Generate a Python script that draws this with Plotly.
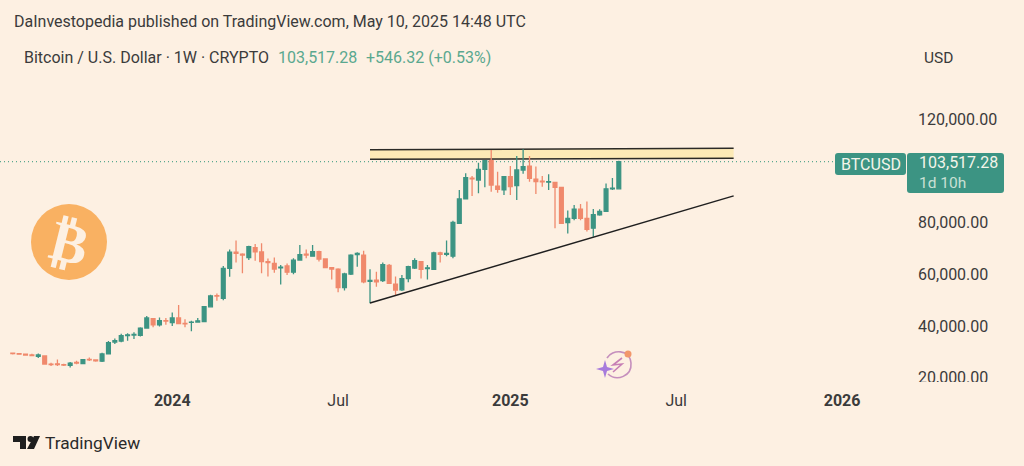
import pandas as pd
import plotly.graph_objects as go

# weekly BTCUSD candles
first_week = '2023-07-10'
opens = [29500, 29300, 29100, 28800, 28300, 28400, 25300, 25400, 25100, 24800, 25900, 25500,
         27100, 26900, 26400, 29200, 33800, 34200, 36300, 36500, 36400, 39200, 42800, 40400,
         42100, 41300, 43100, 41000, 41400, 41500, 41700, 47400, 51700, 50700, 62300, 68500,
         67800, 66400, 70300, 68600, 64900, 64200, 62500, 63200, 60800, 65500, 67800, 67000,
         68700, 65900, 62600, 62000, 54800, 60100, 67600, 67400, 57300, 57700, 57500, 63400,
         56200, 54000, 58300, 62400, 64900, 62200, 61900, 68300, 67700, 67000, 79700, 89100,
         97100, 96400, 100500, 103900, 94100, 92600, 97700, 94300, 100300, 101800, 96800, 96000,
         95600, 95500, 93600, 79950, 81600, 85200, 81600, 77800, 83000, 84300, 93000, 93000]
highs = [29800, 29500, 29300, 29300, 29400, 28500, 25800, 27100, 25400, 26100, 26600, 27000,
         27800, 27000, 29700, 34200, 35200, 37000, 37200, 37600, 39500, 43900, 42900, 43300,
         43100, 45200, 48100, 42600, 42000, 43100, 47700, 52100, 52600, 63200, 69600, 73000,
         68100, 71000, 71700, 72000, 66100, 66500, 63600, 64200, 66200, 71300, 69600, 71300,
         69100, 66200, 62600, 62300, 60600, 67700, 68500, 69100, 61900, 61000, 64500, 64000,
         59100, 59700, 63300, 66200, 65000, 63600, 68700, 68700, 73000, 80700, 92600, 99000,
         98000, 103100, 104000, 108000, 99600, 98000, 101800, 105700, 108300, 105700, 101600, 98000,
         98700, 95500, 93800, 84600, 86800, 87200, 88100, 85200, 85100, 95100, 97200, 103900]
lows = [29000, 28900, 28600, 28400, 27600, 25000, 24500, 24500, 24500, 24000, 25200, 25400,
        26500, 26200, 26100, 29000, 33000, 33700, 34300, 35000, 35900, 39000, 39500, 39800,
        40500, 40000, 40800, 39500, 38000, 41300, 41500, 47200, 49800, 50000, 59000, 64500,
        60400, 65500, 65200, 60400, 59100, 60600, 56000, 59700, 60000, 65300, 66200, 66800,
        64900, 62300, 58000, 53000, 53700, 59700, 62900, 56500, 48800, 55200, 57000, 56200,
        52000, 53500, 56900, 62000, 58400, 58000, 61600, 64500, 67000, 66200, 79400, 89000,
        90200, 91300, 93600, 91900, 91500, 90600, 90600, 88700, 98800, 95800, 91000, 93800,
        92600, 77800, 79600, 75800, 80900, 80900, 76500, 74500, 82600, 84200, 92600, 92900]
closes = [29300, 29100, 28800, 28600, 28800, 25300, 25100, 25100, 24900, 25600, 25700, 27000,
          26900, 26500, 29200, 33600, 34300, 36300, 36600, 36800, 39200, 43100, 40400, 42100,
          41900, 43100, 40900, 40800, 41500, 42000, 47500, 51600, 51600, 62300, 68500, 68100,
          67400, 70700, 68700, 64900, 64500, 62000, 62700, 60800, 65500, 67600, 67400, 68700,
          65900, 62600, 62000, 54800, 60100, 67400, 68100, 57100, 57600, 57100, 63700, 56500,
          53900, 58300, 62900, 65300, 61900, 62500, 68300, 67700, 68100, 80000, 89100, 97300,
          96900, 100500, 103900, 94500, 92800, 97700, 93900, 100300, 101600, 97100, 95800, 95700,
          95800, 93600, 79700, 81600, 85200, 81600, 77400, 83000, 84300, 93000, 93300, 103517.28]

# drawings on the chart
band_dates = ['2024-08-05', '2025-09-08']
band_top = [108150, 108700]
band_bottom = [104430, 104800]
trend_dates = ['2024-08-05', '2025-09-08']
trend_prices = [48900, 90300]

price_ticks = [20000, 40000, 60000, 80000, 120000]
date_ticks = ['2024-01-01', '2024-07-01', '2025-01-06', '2025-07-07', '2026-01-05']
date_labels = ['<b>2024</b>', 'Jul', '<b>2025</b>', 'Jul', '<b>2026</b>']

BG = '#fdf0e2'
GREEN = '#3c9483'
RED = '#f0896c'
TEXT = '#3b3b3b'
FONT = 'Roboto'

# plot area in page pixels, used for the decorations only
L, R, T, B = 0, 915, 78, 384


def px(x, y):
    return (x - L) / (R - L), (B - y) / (B - T)


def path(points, close=True):
    out = []
    for i, (x, y) in enumerate(points):
        a, b = px(x, y)
        out.append(('M' if i == 0 else 'L') + f'{a:.5f},{b:.5f}')
    return ' '.join(out) + (' Z' if close else '')


def curve(d):
    # d is a list of (command, points...) in page pixels
    out = []
    for cmd, *pts in d:
        s = ' '.join('%.5f,%.5f' % px(*p) for p in pts)
        out.append(cmd + s)
    return ' '.join(out)


def circle(cx, cy, r, **kw):
    x0, y0 = px(cx - r, cy + r)
    x1, y1 = px(cx + r, cy - r)
    return dict(type='circle', xref='paper', yref='paper', x0=x0, y0=y0, x1=x1, y1=y1, **kw)


def rounded(x0, y0, x1, y1, r, color):
    d = [('M', (x0 + r, y0)), ('L', (x1 - r, y0)), ('Q', (x1, y0), (x1, y0 + r)),
         ('L', (x1, y1 - r)), ('Q', (x1, y1), (x1 - r, y1)), ('L', (x0 + r, y1)),
         ('Q', (x0, y1), (x0, y1 - r)), ('L', (x0, y0 + r)), ('Q', (x0, y0), (x0 + r, y0))]
    return dict(type='path', xref='paper', yref='paper', path=curve(d) + ' Z',
                fillcolor=color, line=dict(width=0))


def label(x, y, text, size=16, color=TEXT, anchor='left', family=FONT, angle=0):
    a, b = px(x, y)
    return dict(x=a, y=b, xref='paper', yref='paper', text=text, showarrow=False, xanchor=anchor,
                yanchor='middle', textangle=angle, font=dict(family=family, size=size, color=color))


weeks = pd.date_range(first_week, periods=len(opens), freq='7D')

fig = go.Figure()
fig.add_trace(go.Scatter(x=trend_dates, y=trend_prices, mode='lines', line=dict(color='#1f1f1f', width=1.5)))
fig.add_trace(go.Candlestick(
    x=weeks, open=opens, high=highs, low=lows, close=closes, whiskerwidth=0,
    increasing=dict(line=dict(color=GREEN, width=1.3), fillcolor=GREEN),
    decreasing=dict(line=dict(color=RED, width=1.3), fillcolor=RED),
))

shapes = [
    # resistance band, kept below so the wicks show through it
    dict(type='path', xref='x', yref='y', layer='below', fillcolor='#fdeab6', line=dict(width=0),
         path=f'M{band_dates[0]},{band_bottom[0]} L{band_dates[1]},{band_bottom[1]} '
              f'L{band_dates[1]},{band_top[1]} L{band_dates[0]},{band_top[0]} Z'),
    dict(type='line', xref='x', yref='y', layer='below', x0=band_dates[0], x1=band_dates[1],
         y0=band_top[0], y1=band_top[1], line=dict(color='#2b2a26', width=1.5)),
    dict(type='line', xref='x', yref='y', layer='below', x0=band_dates[0], x1=band_dates[1],
         y0=band_bottom[0], y1=band_bottom[1], line=dict(color='#2b2a26', width=1.5)),
    # last price line
    dict(type='line', xref='paper', yref='y', x0=0, x1=px(835, 0)[0], y0=closes[-1], y1=closes[-1],
         line=dict(color='#5aa88f', width=1.4, dash='1px,3px'), layer='below'),
    # hides the bottom of the cut-off scale label
    dict(type='rect', xref='paper', yref='paper', x0=px(910, 0)[0], x1=px(1010, 0)[0],
         y0=px(0, 392)[1], y1=px(0, 382)[1], fillcolor=BG, line=dict(width=0)),
    rounded(835, 153, 906, 175, 3, GREEN),
    rounded(907, 153, 1004, 193, 3, GREEN),
    # bitcoin badge
    circle(69, 242, 38, fillcolor='#f9b162', line=dict(width=0)),
    # TradingView logo
    dict(type='path', xref='paper', yref='paper', fillcolor='#1e1e1e', line=dict(width=0),
         path=path([(13, 436), (26, 436), (26, 449), (20, 449), (20, 442), (13, 442)])),
    circle(30.5, 439, 3, fillcolor='#1e1e1e', line=dict(width=0)),
    dict(type='path', xref='paper', yref='paper', fillcolor='#1e1e1e', line=dict(width=0),
         path=path([(34, 436), (40, 436), (34, 449), (27, 449)])),
    # bolt badge
    dict(type='path', xref='paper', yref='paper', line=dict(color='#c58fbd', width=1.6),
         path=curve([('M', (607, 358)), ('C', (612, 349), (630, 349), (631, 363)),
                     ('C', (632, 376), (617, 382), (608, 374))])),
    dict(type='path', xref='paper', yref='paper', fillcolor='#a77bdc', line=dict(width=0),
         path=path([(605, 360), (607, 367), (614, 369), (607, 371), (605, 378), (603, 371), (596, 369), (603, 367)])),
    circle(628, 354, 3.5, fillcolor='#f2976b', line=dict(width=0)),
    dict(type='path', xref='paper', yref='paper', line=dict(color='#c77fb5', width=1.6),
         path=path([(622, 358), (613, 365), (622, 364), (613, 372)], close=False)),
]

annotations = [
    label(12, 21, 'DaInvestopedia published on TradingView.com, May 10, 2025 14:48 UTC'),
    label(22, 57, 'Bitcoin / U.S. Dollar · 1W · CRYPTO'),
    label(276, 57, '103,517.28', color='#5aa88f'),
    label(364, 57, '+546.32 (+0.53%)', color='#5aa88f'),
    label(922, 58, 'USD', size=15.5),
    label(839, 164, 'BTCUSD', color='#f4f4ea'),
    label(917, 162, f'{closes[-1]:,.2f}', size=16, color='#f4f4ea'),
    label(917, 183, '1d 10h', size=15.5, color='#c9e0d4'),
    label(69, 242, '<b>₿</b>', size=56, color=BG, anchor='center', family='DejaVu Sans', angle=14),
    label(43, 443, 'TradingView', size=17.3, color='#2a2a2a'),
]

fig.update_layout(
    width=1024, height=466,
    margin=dict(l=L, r=1024 - R, t=T, b=466 - B, pad=0),
    paper_bgcolor=BG, plot_bgcolor=BG,
    showlegend=False,
    boxgap=0.15,
    shapes=shapes,
    annotations=annotations,
    font=dict(family=FONT, size=16, color=TEXT),
    xaxis=dict(
        type='date', range=['2023-06-26', '2026-03-26'], rangeslider=dict(visible=False),
        tickmode='array', tickvals=date_ticks, ticktext=date_labels, ticklabelstandoff=5,
        showgrid=False, zeroline=False, showline=False, ticks='', tickfont=dict(size=16, color=TEXT),
    ),
    yaxis=dict(
        side='right', range=[17584, 135853], tickmode='array', tickvals=price_ticks,
        tickformat=',.2f', showgrid=False, zeroline=False, showline=False, ticks='',
        ticklabelstandoff=2, tickfont=dict(size=16, color=TEXT), automargin=False,
    ),
)

fig.write_html("out.html", config=dict(displayModeBar=False), post_script="document.body.style.margin='0';")
